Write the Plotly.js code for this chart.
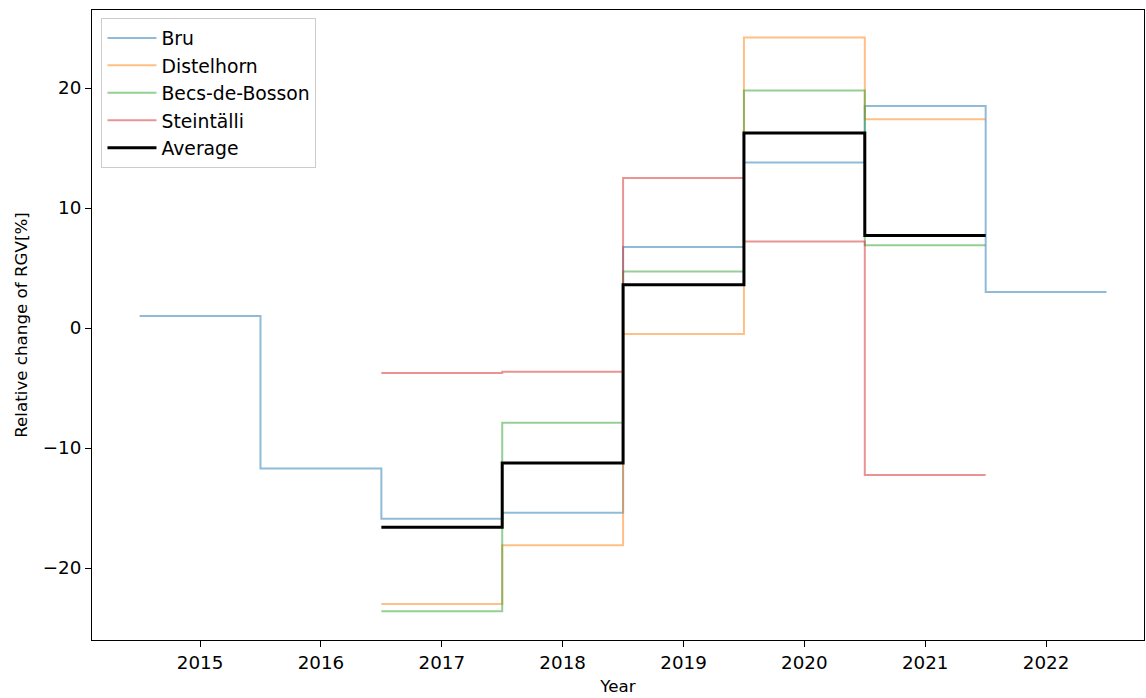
<!DOCTYPE html>
<html>
<head>
<meta charset="utf-8">
<script src="https://cdn.plot.ly/plotly-3.0.1.min.js"></script>
<style>html,body{margin:0;padding:0;background:#fff;}</style>
</head>
<body>
<div id="chart" style="width:1146px;height:698px;"></div>
<script>
const bruYears = [2015, 2016, 2017, 2018, 2019, 2020, 2021, 2022];
const bruValues = [1.0, -11.7, -15.9, -15.4, 6.75, 13.8, 18.5, 3.0];

const otherYears = [2017, 2018, 2019, 2020, 2021];
const distelhornValues = [-23.0, -18.1, -0.5, 24.2, 17.4];
const becsValues = [-23.6, -7.9, 4.7, 19.8, 6.9];
const steintalliValues = [-3.75, -3.65, 12.5, 7.2, -12.25];
const averageValues = [-16.6, -11.25, 3.6, 16.25, 7.7];

const tickYears = [2015, 2016, 2017, 2018, 2019, 2020, 2021, 2022];
const yTicks = [-20, -10, 0, 10, 20];

function stepTrace(name, years, vals, color, width) {
  const x = years.map(v => v - 0.5);
  x.push(years[years.length - 1] + 0.5);
  const y = vals.slice();
  y.push(vals[vals.length - 1]);
  return {
    type: 'scatter', mode: 'lines', name: name,
    x: x, y: y,
    line: {shape: 'hv', color: color, width: width}
  };
}

const data = [
  stepTrace('Bru', bruYears, bruValues, 'rgba(31,119,180,0.5)', 2),
  stepTrace('Distelhorn', otherYears, distelhornValues, 'rgba(255,127,14,0.5)', 2),
  stepTrace('Becs-de-Bosson', otherYears, becsValues, 'rgba(44,160,44,0.5)', 2),
  stepTrace('Steintälli', otherYears, steintalliValues, 'rgba(214,39,40,0.5)', 2),
  stepTrace('Average', otherYears, averageValues, '#000000', 3)
];

const layout = {
  width: 1146, height: 698,
  margin: {l: 92, r: 2, t: 10, b: 58},
  paper_bgcolor: '#fff', plot_bgcolor: '#fff',
  font: {family: 'DejaVu Sans, sans-serif', size: 18, color: '#000'},
  showlegend: true,
  legend: {
    x: 0.009, y: 0.987, xanchor: 'left', yanchor: 'top',
    bgcolor: 'rgba(255,255,255,0.8)', bordercolor: '#cccccc', borderwidth: 1,
    font: {size: 18.8}, itemwidth: 49
  },
  xaxis: {
    range: [2014.106, 2022.81],
    tickvals: tickYears, ticktext: tickYears.map(String),
    tickfont: {size: 18.3},
    showgrid: false, zeroline: false,
    showline: true, linecolor: '#000', linewidth: 1, mirror: true,
    ticks: 'outside', ticklen: 6, tickcolor: '#000',
    title: {text: 'Year', font: {size: 16.7}, standoff: 8}
  },
  yaxis: {
    range: [-26.0, 26.5],
    tickvals: yTicks, ticktext: yTicks.map(v => v < 0 ? '\u2212' + Math.abs(v) : String(v)),
    tickfont: {size: 18.3},
    showgrid: false, zeroline: false,
    showline: true, linecolor: '#000', linewidth: 1, mirror: true,
    ticks: 'outside', ticklen: 6, tickcolor: '#000',
    title: {text: 'Relative change of RGV[%]', font: {size: 16.7}, standoff: 10}
  }
};

Plotly.newPlot('chart', data, layout, {displayModeBar: false, staticPlot: true});
</script>
</body>
</html>
